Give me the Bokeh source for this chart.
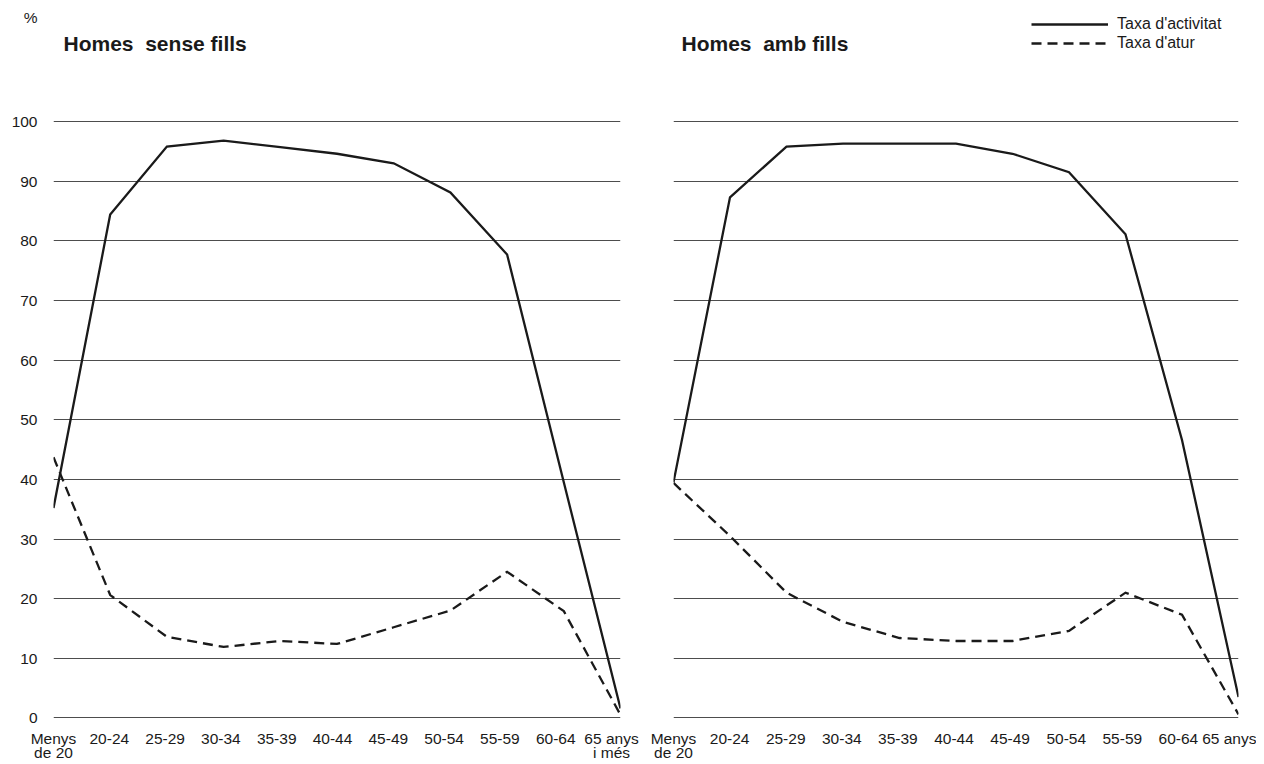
from bokeh.plotting import figure
from bokeh.models import Range1d, LinearAxis, FixedTicker, Label, Legend, LegendItem, Grid
from bokeh.layouts import row
from bokeh.embed import file_html
from bokeh.resources import INLINE

# ---- data ----
categories = ["Menys de 20", "20-24", "25-29", "30-34", "35-39", "40-44",
              "45-49", "50-54", "55-59", "60-64", "65 anys i més"]
tick_labels_left = ["Menys\nde 20", "20-24", "25-29", "30-34", "35-39", "40-44",
                    "45-49", "50-54", "55-59", "60-64", "65 anys\ni més"]
tick_labels_right = ["Menys\nde 20", "20-24", "25-29", "30-34", "35-39", "40-44",
                     "45-49", "50-54", "55-59", "60-64", "65 anys"]
y_ticks = [0, 10, 20, 30, 40, 50, 60, 70, 80, 90, 100]
unit_label = "%"
unit_label_pos = 117.4
title_left = "Homes\u00a0 sense fills"
title_right = "Homes\u00a0 amb fills"
series_names = ["Taxa d'activitat", "Taxa d'atur"]

sense_activitat = [35.2, 84.4, 95.8, 96.8, 95.7, 94.6, 93.0, 88.1, 77.7, 39.5, 1.6]
sense_atur = [43.7, 20.6, 13.6, 11.9, 12.9, 12.4, 15.2, 18.0, 24.5, 17.9, 0.5]
amb_activitat = [39.5, 87.3, 95.8, 96.3, 96.3, 96.3, 94.6, 91.5, 81.1, 46.6, 3.5]
amb_atur = [39.4, 30.5, 21.0, 16.1, 13.4, 12.9, 12.9, 14.6, 21.0, 17.3, 0.6]

FONT = "Liberation Sans"
INK = "#1a1a1a"
GRID = "#4d4d4d"


def make_panel(act, atur, tick_labels, lab_end, b_left, b_right, fw, show_y):
    xs = list(range(len(categories)))
    p = figure(frame_width=fw, frame_height=718,
               min_border_left=b_left, min_border_right=b_right,
               min_border_top=0, min_border_bottom=44,
               x_range=Range1d(0, len(categories) - 1), y_range=Range1d(-0.1, 120.3),
               x_axis_type=None, y_axis_type=None,
               output_backend="svg", toolbar_location=None)
    p.outline_line_color = None
    p.background_fill_color = "white"
    p.border_fill_color = "white"

    p.add_layout(Grid(dimension=1, ticker=FixedTicker(ticks=y_ticks),
                      grid_line_color=GRID, grid_line_width=1), "center")

    if show_y:
        overrides = {float(t): str(t) for t in y_ticks}
        overrides[unit_label_pos] = unit_label
        yax = LinearAxis(ticker=FixedTicker(ticks=y_ticks + [unit_label_pos]),
                         major_label_overrides=overrides)
        yax.axis_line_color = None
        yax.major_tick_line_color = None
        yax.minor_tick_line_color = None
        yax.major_tick_out = 0
        yax.major_tick_in = 0
        yax.major_label_standoff = 16
        yax.major_label_text_font = FONT
        yax.major_label_text_font_size = "15.5px"
        yax.major_label_text_color = INK
        p.add_layout(yax, "left")

    p.extra_x_ranges = {"lab": Range1d(-0.0001, lab_end)}
    xax = LinearAxis(x_range_name="lab",
                     ticker=FixedTicker(ticks=list(range(len(tick_labels)))),
                     major_label_overrides={i: t for i, t in enumerate(tick_labels)})
    xax.axis_line_color = None
    xax.major_tick_line_color = None
    xax.minor_tick_line_color = None
    xax.major_tick_out = 0
    xax.major_tick_in = 0
    xax.major_label_standoff = 11
    xax.major_label_text_font = FONT
    xax.major_label_text_font_size = "15.5px"
    xax.major_label_text_color = INK
    xax.major_label_text_line_height = 0.85
    p.add_layout(xax, "below")

    r1 = p.line(xs, act, line_color=INK, line_width=2.3, line_join="miter")
    r2 = p.line(xs, atur, line_color=INK, line_width=2.3, line_dash="10 6", line_join="miter")
    return p, r1, r2


p1, a1, b1 = make_panel(sense_activitat, sense_atur, tick_labels_left,
                        10.161, 53, 20, 567, True)
p2, a2, b2 = make_panel(amb_activitat, amb_atur, tick_labels_right,
                        10.071, 33, 18, 565, False)

p1.add_layout(Label(x=10, y=675, x_units="screen", y_units="screen", text=title_left,
                    text_font=FONT, text_font_size="21px", text_font_style="bold",
                    text_color=INK, text_baseline="alphabetic"))
p2.add_layout(Label(x=8, y=675, x_units="screen", y_units="screen", text=title_right,
                    text_font=FONT, text_font_size="21px", text_font_style="bold",
                    text_color=INK, text_baseline="alphabetic"))

legend = Legend(items=[LegendItem(label=series_names[0], renderers=[a2]),
                       LegendItem(label=series_names[1], renderers=[b2])],
                location=(358, 666), orientation="vertical",
                glyph_width=77, glyph_height=16, label_height=16, spacing=1,
                label_standoff=9, padding=0, margin=0,
                border_line_color=None, background_fill_alpha=0,
                label_text_font=FONT, label_text_font_size="16px", label_text_color=INK)
p2.add_layout(legend, "center")

layout = row(p1, p2)
open("out.html", "w").write(file_html(layout, INLINE))
